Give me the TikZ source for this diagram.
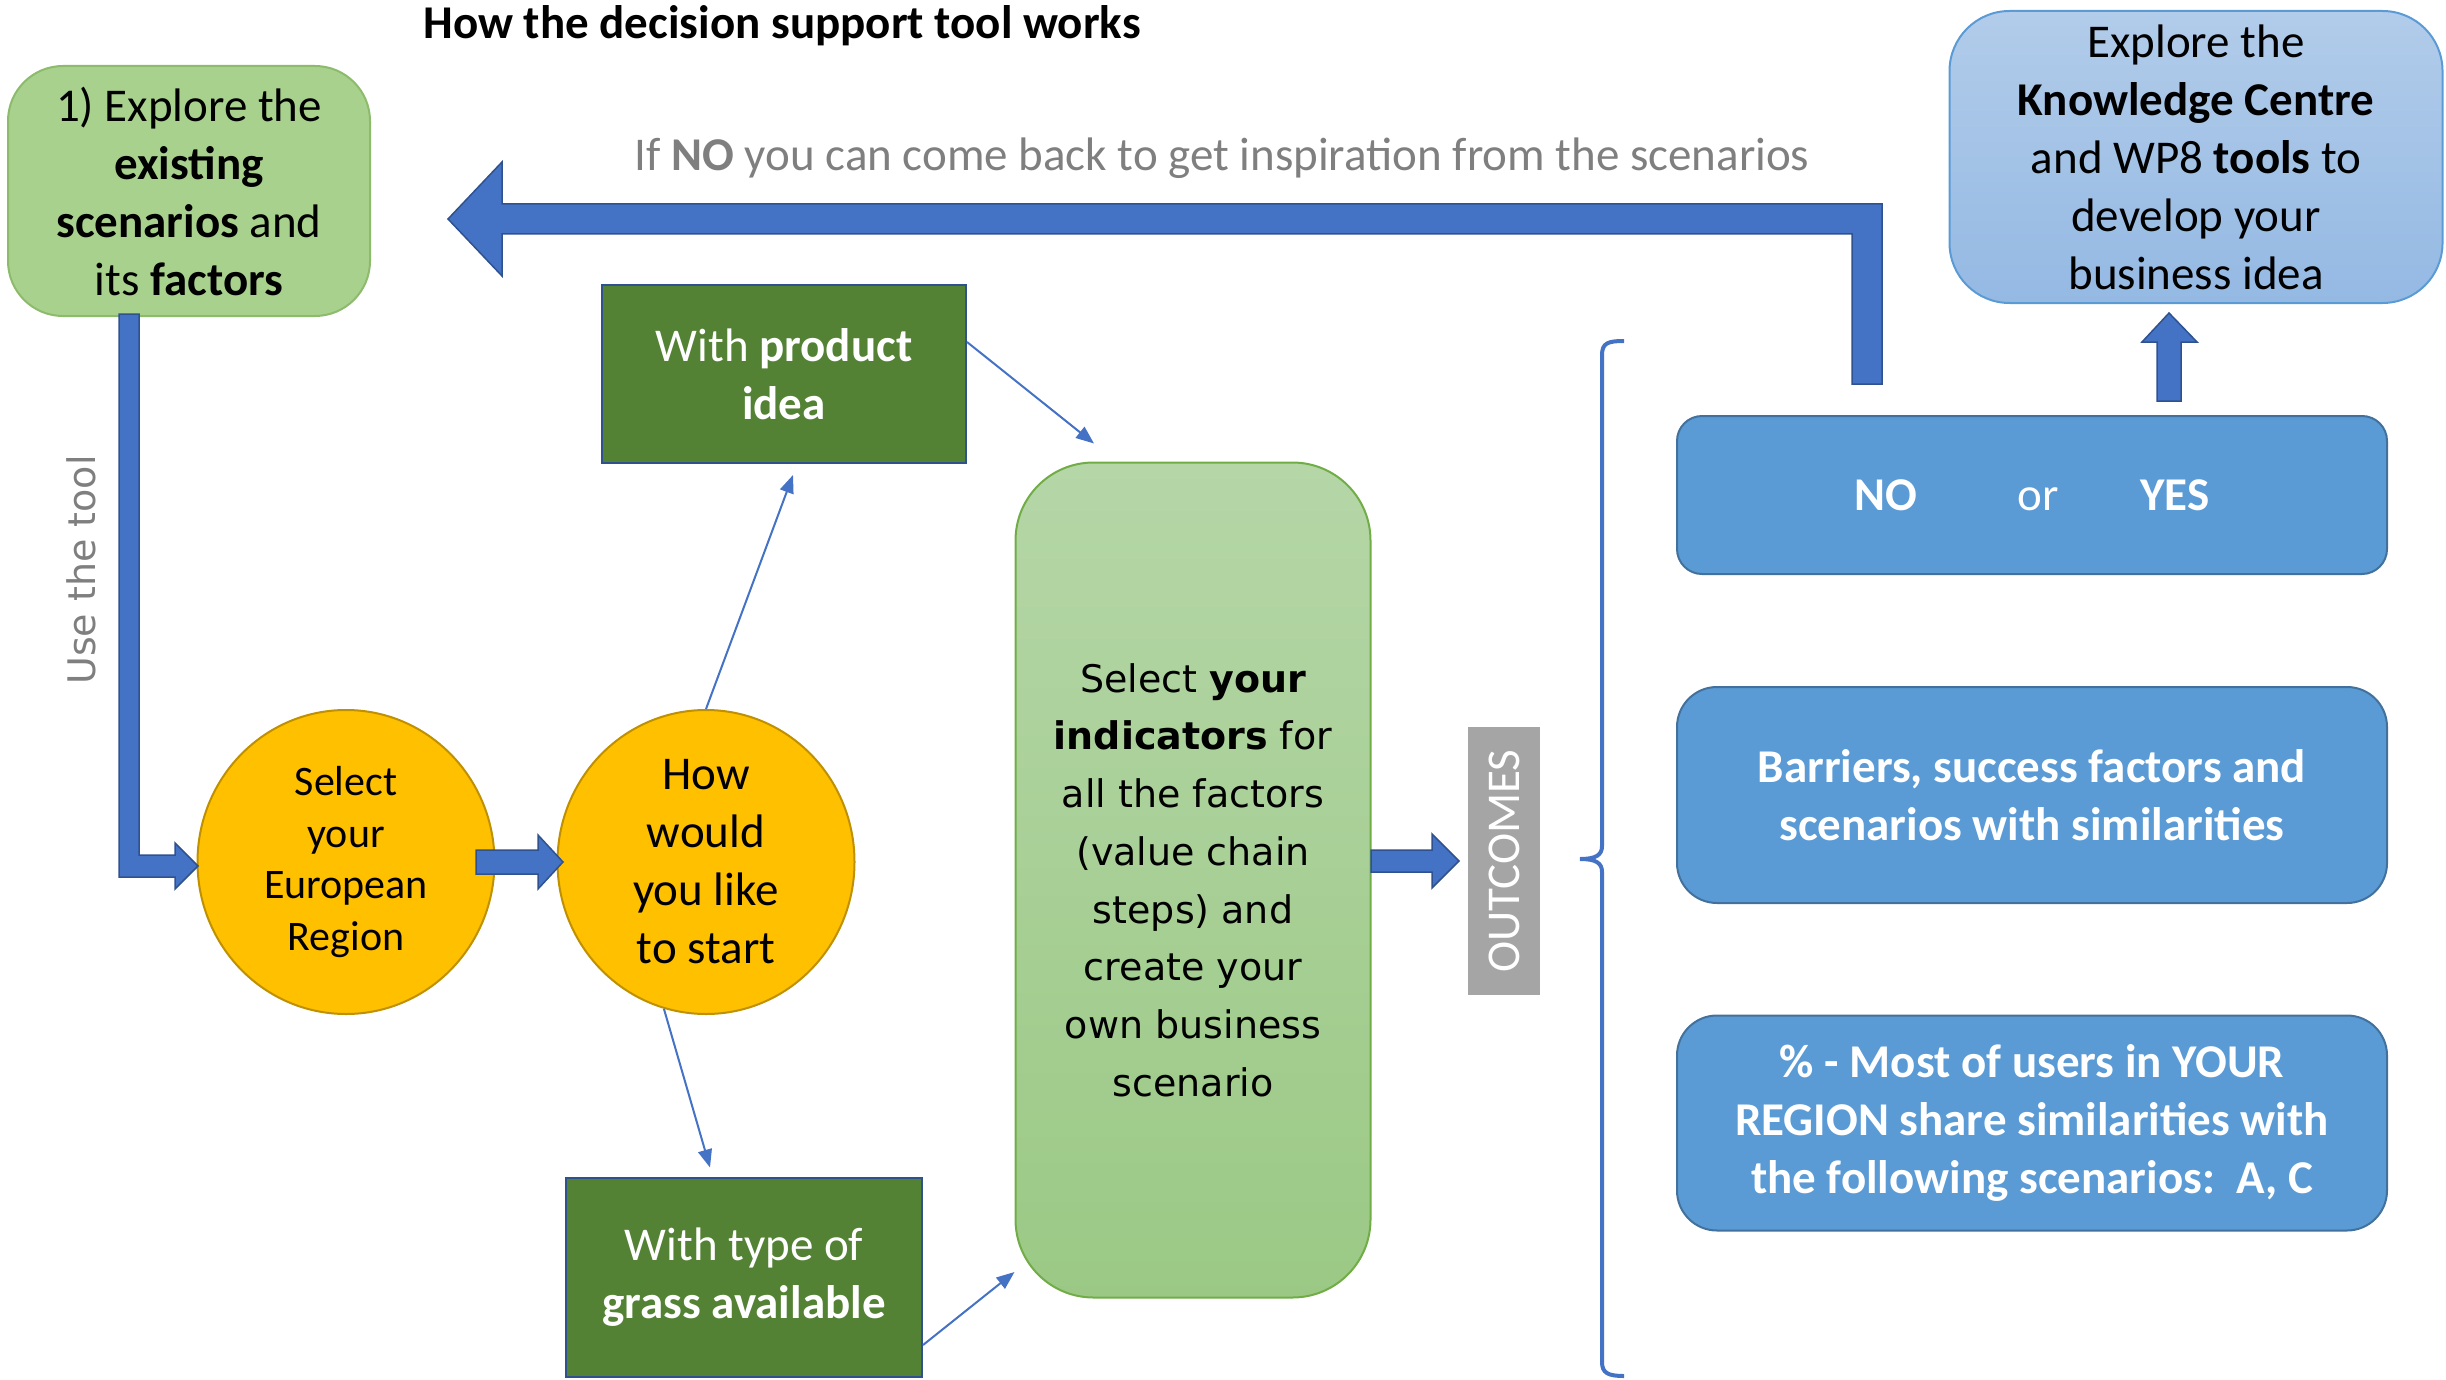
\documentclass[tikz,border=0pt]{standalone}
\usepackage{fontspec}
\setmainfont{Carlito}
\newfontfamily\verdfont{DejaVu Sans}
\usetikzlibrary{shapes.geometric,arrows.meta,calc}
\definecolor{grnA}{HTML}{A9D18E}
\definecolor{grnB}{HTML}{8DBB6C}
\definecolor{dkgrn}{HTML}{548235}
\definecolor{dkblueB}{HTML}{2F528F}
\definecolor{yel}{HTML}{FFC000}
\definecolor{yelB}{HTML}{BF9000}
\definecolor{boxblue}{HTML}{5B9BD5}
\definecolor{boxblueB}{HTML}{41719C}
\definecolor{kcTop}{HTML}{B2CCEA}
\definecolor{kcBot}{HTML}{94B9E3}
\definecolor{cTop}{HTML}{B5D6A7}
\definecolor{cBot}{HTML}{9BC985}
\definecolor{cB}{HTML}{70AD47}
\definecolor{arrblue}{HTML}{4472C4}
\definecolor{graytxt}{HTML}{7F7F7F}
\definecolor{outgray}{HTML}{A5A5A5}
\newcommand\fsmain{\fontsize{47}{58}\selectfont}
\newcommand\fsregion{\fontsize{42}{51.5}\selectfont}
\newcommand\fsverd{\verdfont\fontsize{38}{57.7}\selectfont}
\tikzset{
  basebox/.style={align=center, inner sep=0pt, line width=2pt, font=\fsmain},
  greenbox/.style={basebox, draw=grnB, fill=grnA, rounded corners=55pt},
  kcbox/.style={basebox, draw=boxblue, top color=kcTop, bottom color=kcBot, rounded corners=60pt},
  bluebox/.style={basebox, draw=boxblueB, fill=boxblue, text=white, minimum width=710pt},
  centralbox/.style={align=center, inner sep=0pt, line width=2pt, draw=cB, top color=cTop, bottom color=cBot, rounded corners=78pt, font=\fsverd},
  yellowcirc/.style={shape=ellipse, align=center, inner sep=0pt, draw=yelB, fill=yel, line width=2pt, minimum width=297pt, minimum height=304pt},
  darkgreen/.style={basebox, draw=dkblueB, fill=dkgrn, text=white},
  outbox/.style={align=center, inner sep=0pt, fill=outgray, text=white, font=\fsmain, rotate=90, minimum width=268pt, minimum height=72pt},
  graytext/.style={text=graytxt, inner sep=0pt, font=\fsmain},
  blockarrow/.style={fill=arrblue, draw=dkblueB, line width=1.5pt, line join=miter},
  thinarrow/.style={draw=arrblue, line width=2pt, -{Triangle[length=18pt,width=14pt]}},
  bracestyle/.style={draw=arrblue, line width=4pt}
}
\begin{document}
\begin{tikzpicture}[x=1pt,y=-1pt]
\useasboundingbox (0,0) rectangle (2446,1380);

% title
\node[inner sep=0pt, font=\fsmain\bfseries] (title) at (782,26) {How the decision support tool works};

% boxes
\node[greenbox, minimum width=362pt, minimum height=250pt] (explore) at (189,191)
  {1) Explore the\\\textbf{existing}\\\textbf{scenarios} and\\its \textbf{factors}};
\node[kcbox, minimum width=493pt, minimum height=292pt] (kc) at (2196,157)
  {Explore the\\\textbf{Knowledge Centre}\\and WP8 \textbf{tools} to\\develop your\\business idea};
\node[bluebox, minimum height=158pt, rounded corners=25pt] (noyes) at (2032,495)
  {\textbf{NO}\hspace*{100pt}or\hspace*{82pt}\textbf{YES}};
\node[bluebox, minimum height=216pt, rounded corners=40pt, font=\fsmain\bfseries] (barriers) at (2032,795)
  {Barriers, success factors and\\scenarios with similarities};
\node[bluebox, minimum height=215pt, rounded corners=40pt, font=\fsmain\bfseries] (pct) at (2032,1123)
  {\% - Most of users in YOUR\\REGION share similarities with\\the following scenarios:\ \ A, C};
\node[centralbox, minimum width=355pt, minimum height=835pt] (central) at (1193,880)
  {Select \textbf{your}\\\textbf{indicators} for\\all the factors\\(value chain\\steps) and\\create your\\own business\\scenario};
\node[yellowcirc, font=\fsregion] (region) at (346,862) {Select\\your\\European\\Region};
\node[yellowcirc, font=\fsmain] (start) at (706,862) {How\\would\\you like\\to start};
\node[darkgreen, minimum width=364pt, minimum height=178pt] (product) at (784,374)
  {With \textbf{product}\\\textbf{idea}};
\node[darkgreen, minimum width=356pt, minimum height=199pt] (grass) at (744,1277)
  {With type of\\\textbf{grass available}};
\node[outbox] (outcomes) at (1504,861) {OUTCOMES};

% texts
\node[graytext] (backtext) at (1222,158) {If \textbf{NO} you can come back to get inspiration from the scenarios};
\node[text=graytxt, inner sep=0pt, font=\verdfont\fontsize{38}{46}\selectfont, rotate=90] (usetool) at (81,570) {Use the tool};

% block arrows
\draw[blockarrow] (1882,384) -- (1882,204) -- (502,204) -- (502,162) -- (448,219) -- (502,276) -- (502,234) -- (1852,234) -- (1852,384) -- cycle;
\draw[blockarrow] (119,314) -- (139,314) -- (139,855) -- (175,855) -- (175,843) -- (198,866) -- (175,889) -- (175,877) -- (119,877) -- cycle;
\draw[blockarrow] (476,850) -- (538,850) -- (538,835) -- (563,862) -- (538,889) -- (538,874) -- (476,874) -- cycle;
\draw[blockarrow] (1371,850) -- (1432,850) -- (1432,834) -- (1459,861) -- (1432,888) -- (1432,872) -- (1371,872) -- cycle;
\draw[blockarrow] (2157,401) -- (2157,342) -- (2142,342) -- (2169,313) -- (2197,342) -- (2181,342) -- (2181,401) -- cycle;

% brace
\draw[bracestyle] (1624,341) .. controls (1608,341) and (1602,343) .. (1602,355) -- (1602,846)
  .. controls (1602,855) and (1596,859) .. (1580,859)
  .. controls (1596,859) and (1602,863) .. (1602,872) -- (1602,1362)
  .. controls (1602,1373) and (1608,1376) .. (1624,1376);

% thin connectors
\draw[thinarrow] (start.north) -- ([shift={(9,11)}]product.south);
\draw[thinarrow] ([shift={(0,-32)}]product.east) -- ([shift={(-99,-18)}]central.north);
\draw[thinarrow] (start.254) -- ([shift={(-34,-9)}]grass.north);
\draw[thinarrow] ([shift={(0,68)}]grass.east) -- ([shift={(0,392)}]central.west);
\end{tikzpicture}
\end{document}
